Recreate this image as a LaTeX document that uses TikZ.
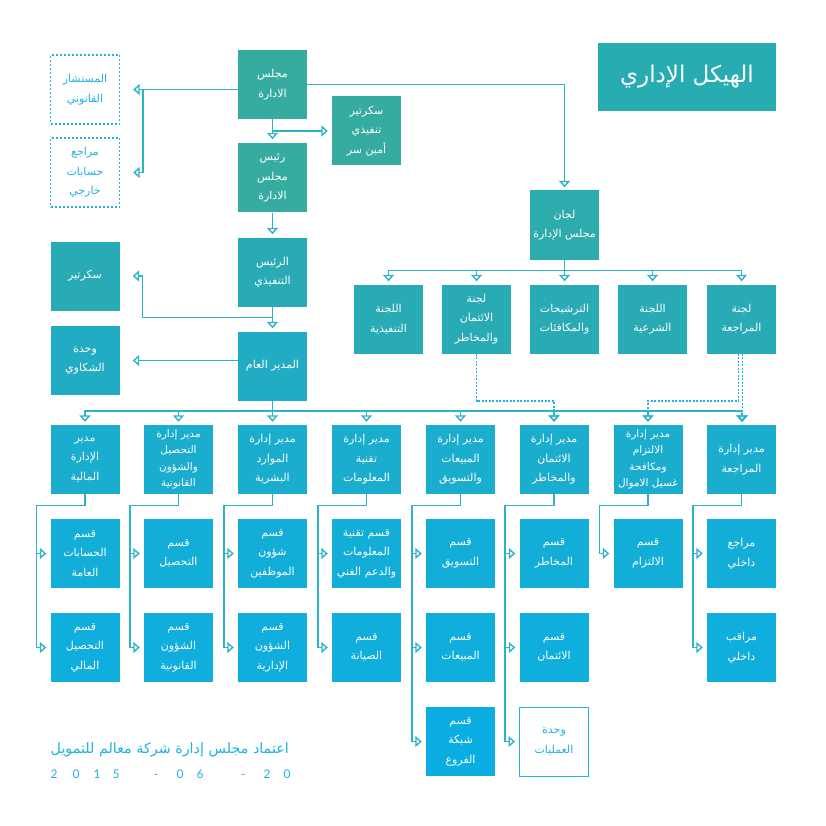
\documentclass[tikz,border=0pt]{standalone}
\usepackage{fontspec}
\usetikzlibrary{arrows.meta}
\TeXXeTstate=1
\newfontfamily\arabicfont[Script=Arabic]{DejaVu Sans}
\newfontfamily\latofont{Lato}
\newcommand\arln[1]{\beginR #1\endR}
\definecolor{cTitle}{HTML}{27ACB2}
\definecolor{cTop}{HTML}{35AC9F}
\definecolor{cCmt}{HTML}{2EABAC}
\definecolor{cRowB}{HTML}{29ABB6}
\definecolor{cGm}{HTML}{22ACC3}
\definecolor{cMgr}{HTML}{1BADCD}
\definecolor{cD1}{HTML}{13AED7}
\definecolor{cD2}{HTML}{0FAEDD}
\definecolor{cD3}{HTML}{0BAEE2}
\definecolor{lineC}{HTML}{2DB2C8}
\definecolor{cyanT}{HTML}{22B1E2}
\tikzset{
  box/.style={minimum width=69pt, minimum height=69pt, inner sep=0pt, text=white, align=center,
    font=\arabicfont\fontsize{11}{19.5}\selectfont},
  tight/.style={font=\arabicfont\fontsize{10.5}{16.5}\selectfont},
  dotbox/.style={box, draw=cyanT, line width=1.3pt, dash pattern=on 2pt off 2pt, text=cyanT, fill=white},
  conn/.style={draw=lineC, line width=1.4pt, -{Triangle[open,length=6.5pt,width=11pt]}},
  dotconn/.style={conn, dash pattern=on 2pt off 1.5pt, draw=cyanT},
}
\begin{document}
\begin{tikzpicture}[x=1pt,y=-1pt]
\useasboundingbox (0,0) rectangle (826,826);
% title
\node[fill=cTitle, minimum width=178pt, minimum height=68pt, text=white,
  font=\arabicfont\fontsize{23}{26}\selectfont] (title) at (687,77) {\arln{الهيكل الإداري}};
% top chain
\node[box, fill=cTop] (board) at (272.5,84.5) {\arln{مجلس}\\\arln{الادارة}};
\node[dotbox] (legal) at (85,89.5) {\arln{المستشار}\\\arln{القانوني}};
\node[dotbox] (extaud) at (85,172.5) {\arln{مراجع}\\\arln{حسابات}\\\arln{خارجي}};
\node[box, fill=cTop] (execsec) at (366.5,131) {\arln{سكرتير}\\\arln{تنفيذي}\\\arln{أمين سر}};
\node[box, fill=cTop] (chair) at (272.5,178) {\arln{رئيس}\\\arln{مجلس}\\\arln{الادارة}};
\node[box, fill=cCmt] (cmt) at (564.5,225) {\arln{لجان}\\\arln{مجلس الإدارة}};
% committees
\node[box, fill=cRowB] (ce) at (388.5,319) {\arln{اللجنة}\\\arln{التنفيذية}};
\node[box, fill=cRowB] (ccr) at (476.5,319) {\arln{لجنة}\\\arln{الائتمان}\\\arln{والمخاطر}};
\node[box, fill=cRowB] (cnr) at (564.5,319) {\arln{الترشيحات}\\\arln{والمكافئات}};
\node[box, fill=cRowB] (csh) at (652.5,319) {\arln{اللجنة}\\\arln{الشرعية}};
\node[box, fill=cRowB] (cau) at (741.5,319) {\arln{لجنة}\\\arln{المراجعة}};
% executive
\node[box, fill=cRowB] (ceo) at (272.5,272) {\arln{الرئيس}\\\arln{التنفيذي}};
\node[box, fill=cRowB] (secr) at (85,276) {\arln{سكرتير}};
\node[box, fill=cGm] (gm) at (272.5,366) {\arln{المدير العام}};
\node[box, fill=cGm] (compl) at (85,360.5) {\arln{وحدة}\\\arln{الشكاوي}};
% managers
\node[box, fill=cMgr] (mfin) at (85,459.5) {\arln{مدير}\\\arln{الإدارة}\\\arln{المالية}};
\node[box, fill=cMgr, tight] (mcol) at (178.5,459.5) {\arln{مدير إدارة}\\\arln{التحصيل}\\\arln{والشؤون}\\\arln{القانونية}};
\node[box, fill=cMgr] (mhr) at (272.5,459.5) {\arln{مدير إدارة}\\\arln{الموارد}\\\arln{البشرية}};
\node[box, fill=cMgr] (mit) at (366.5,459.5) {\arln{مدير إدارة}\\\arln{تقنية}\\\arln{المعلومات}};
\node[box, fill=cMgr] (msal) at (460.5,459.5) {\arln{مدير إدارة}\\\arln{المبيعات}\\\arln{والتسويق}};
\node[box, fill=cMgr] (mcr) at (554,459.5) {\arln{مدير إدارة}\\\arln{الائتمان}\\\arln{والمخاطر}};
\node[box, fill=cMgr, tight] (mcomp) at (648,459.5) {\arln{مدير إدارة}\\\arln{الالتزام}\\\arln{ومكافحة}\\\arln{غسيل الاموال}};
\node[box, fill=cMgr] (maud) at (741.5,459.5) {\arln{مدير إدارة}\\\arln{المراجعة}};
% departments row 1
\node[box, fill=cD1] (dacc) at (85,553.5) {\arln{قسم}\\\arln{الحسابات}\\\arln{العامة}};
\node[box, fill=cD1] (dcol) at (178.5,553.5) {\arln{قسم}\\\arln{التحصيل}};
\node[box, fill=cD1] (demp) at (272.5,553.5) {\arln{قسم}\\\arln{شؤون}\\\arln{الموظفين}};
\node[box, fill=cD1] (dit) at (366.5,553.5) {\arln{قسم تقنية}\\\arln{المعلومات}\\\arln{والدعم الفني}};
\node[box, fill=cD1] (dmkt) at (460.5,553.5) {\arln{قسم}\\\arln{التسويق}};
\node[box, fill=cD1] (drisk) at (554,553.5) {\arln{قسم}\\\arln{المخاطر}};
\node[box, fill=cD1] (dcomp) at (648,553.5) {\arln{قسم}\\\arln{الالتزام}};
\node[box, fill=cD1] (dia) at (741.5,553.5) {\arln{مراجع}\\\arln{داخلي}};
% departments row 2
\node[box, fill=cD2] (dfcol) at (85,647.5) {\arln{قسم}\\\arln{التحصيل}\\\arln{المالي}};
\node[box, fill=cD2] (dleg) at (178.5,647.5) {\arln{قسم}\\\arln{الشؤون}\\\arln{القانونية}};
\node[box, fill=cD2] (dadm) at (272.5,647.5) {\arln{قسم}\\\arln{الشؤون}\\\arln{الإدارية}};
\node[box, fill=cD2] (dmnt) at (366.5,647.5) {\arln{قسم}\\\arln{الصيانة}};
\node[box, fill=cD2] (dsal) at (460.5,647.5) {\arln{قسم}\\\arln{المبيعات}};
\node[box, fill=cD2] (dcred) at (554,647.5) {\arln{قسم}\\\arln{الائتمان}};
\node[box, fill=cD2] (dic) at (741.5,647.5) {\arln{مراقب}\\\arln{داخلي}};
% departments row 3
\node[box, fill=cD3] (dbr) at (460.5,741.5) {\arln{قسم}\\\arln{شبكة}\\\arln{الفروع}};
\node[box, fill=white, draw=cyanT, line width=1pt, text=cyanT] (dops) at (554,741.5) {\arln{وحدة}\\\arln{العمليات}};

% ---- connectors: board
\draw[conn] (board.west|-legal.east) -- ([xshift=13pt]legal.east);
\draw[conn] ([xshift=23pt]legal.east) |- ([xshift=13pt]extaud.east);
\draw[conn] (board.east) -| ([yshift=3pt]cmt.north);
\draw[conn] (board.south) -- ([yshift=4pt]chair.north);
\draw[conn] (board.south|-execsec.west) -- ([xshift=-4pt]execsec.west);
\draw[conn] (chair.south) -- ([yshift=3pt]ceo.north);
\draw[conn] (ceo.south) -- ([yshift=3pt]gm.north);
\draw[conn] ([yshift=-11pt]ceo.south) -| ([xshift=23pt]secr.east) -- ([xshift=13pt]secr.east);
\draw[conn] (gm.west|-compl.east) -- ([xshift=13pt]compl.east);
% committees
\foreach \c in {ce,ccr,csh,cau}{
  \draw[conn] (cmt.south) |- ([yshift=14pt]\c.north) -- ([yshift=3pt]\c.north);
}
\draw[conn] (cmt.south) -- ([yshift=3pt]cnr.north);
% dotted committee links
\draw[dotconn] (ccr.south) |- ([yshift=24pt]mcr.north) -- ([yshift=3pt]mcr.north);
\draw[dotconn] ([xshift=-3pt]cau.south) |- ([yshift=24pt]mcomp.north) -- ([yshift=3pt]mcomp.north);
\draw[dotconn] ([xshift=1pt]cau.south) -- ([xshift=1pt,yshift=3pt]maud.north);
% managers
\foreach \m in {mfin,mcol,mit,msal,mcr,mcomp,maud}{
  \draw[conn] (gm.south) |- ([yshift=14pt]\m.north) -- ([yshift=3pt]\m.north);
}
\draw[conn] (gm.south) -- ([yshift=3pt]mhr.north);
% departments
\foreach \m/\d in {mfin/dacc,mfin/dfcol,mcol/dcol,mcol/dleg,mhr/demp,mhr/dadm,mit/dit,mit/dmnt,
  msal/dmkt,msal/dsal,msal/dbr,mcr/drisk,mcr/dcred,mcr/dops,mcomp/dcomp,maud/dia,maud/dic}{
  \draw[conn] (\m.south) -- ([yshift=-11pt]\m.south) -| ([xshift=-14pt]\d.west) -- ([xshift=-4pt]\d.west);
}
% footer
\node[anchor=east, inner sep=0pt, text=cyanT, font=\arabicfont\fontsize{14.3}{16}\selectfont] (foot) at (289,750) {\arln{اعتماد مجلس إدارة شركة معالم للتمويل}};
\foreach \x/\ch [count=\i] in {54/2,76/0,97/1,116/5,156/-,180/0,200/6,243/-,267/2,287/0}{
  \node[anchor=base, text=cyanT, inner sep=0pt, font=\latofont\fontsize{12}{14}\selectfont] (date\i) at (\x,778) {\ch};
}
\end{tikzpicture}
\end{document}
